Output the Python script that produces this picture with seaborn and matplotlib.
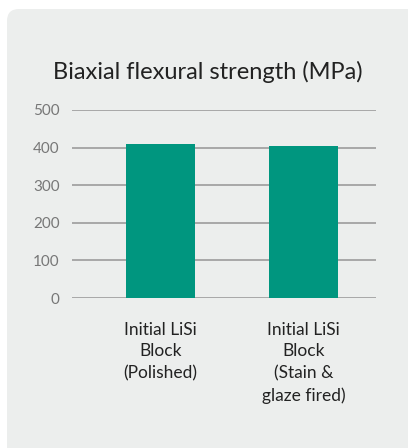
import matplotlib.pyplot as plt
import seaborn as sns
import pandas as pd
from matplotlib.patches import FancyBboxPatch

categories = ['Initial LiSi\nBlock\n(Polished)', 'Initial LiSi\nBlock\n(Stain &\nglaze fired)']
strength = [409, 403]
yticks = [0, 100, 200, 300, 400, 500]

df = pd.DataFrame({'grupo': categories, 'mpa': strength})

sns.set_style('white')
plt.rcParams['font.family'] = ['Lato', 'DejaVu Sans']

fig = plt.figure(figsize=(4.08, 4.48), dpi=100, facecolor='white')

# painel cinza com canto arredondado (eixo de fundo)
bg = fig.add_axes([0, 0, 1, 1], zorder=-1)
bg.set_axis_off()
bg.set_xlim(0, 408)
bg.set_ylim(448, 0)
bg.add_patch(FancyBboxPatch((7, 9), 420, 460, boxstyle='round,pad=0,rounding_size=12',
                            facecolor='#eceeed', edgecolor='none'))

ax = fig.add_axes([72/408, 1 - 298/448, (376 - 72)/408, (298 - 110)/448])
ax.set_facecolor('none')
sns.barplot(data=df, x='grupo', y='mpa', color='#00967f', width=0.48, saturation=1,
            linewidth=0, ax=ax, zorder=3)

ax.set_ylim(0, 500)
ax.set_xlim(-0.619, 1.507)
ax.set_yticks(yticks)
ax.set_yticklabels([str(t) for t in yticks], color='#777777', fontsize=11)
ax.yaxis.grid(True, color='#a8a8a8', linewidth=1.4)
ax.set_axisbelow(True)
ax.tick_params(axis='y', length=0, pad=9)
ax.tick_params(axis='x', length=0, pad=17, labelsize=12.5, labelcolor='#222222')
for lbl in ax.get_xticklabels():
    lbl.set_linespacing(1.45)
    lbl.set_verticalalignment('top')
sns.despine(ax=ax, left=True, bottom=True, top=True, right=True)
ax.set_xlabel('')
ax.set_ylabel('')

fig.text(208/408, 1 - 72/448, 'Biaxial flexural strength (MPa)', ha='center', va='center',
         fontsize=17, color='#222222')

plt.savefig('out.png', dpi=100, facecolor='white')
